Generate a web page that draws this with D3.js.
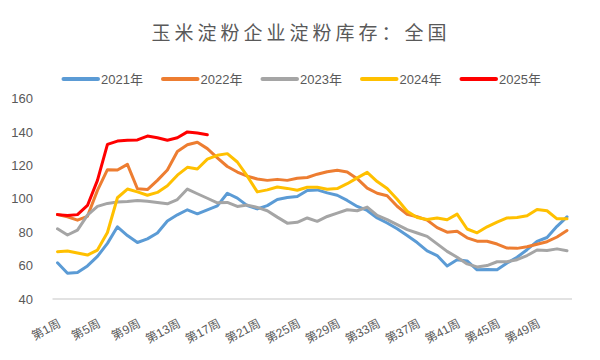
<!DOCTYPE html>
<html><head><meta charset="utf-8">
<script src="https://cdn.jsdelivr.net/npm/d3@7"></script>
<style>
html,body{margin:0;padding:0;background:#fff;}
text{font-family:"Liberation Sans",Arial,"Noto Sans CJK SC",sans-serif;fill:#595959;}
</style></head>
<body><svg id="c" width="600" height="360"></svg>
<script>
const weeks = d3.range(1, 53).map(i => "第" + i + "周");
const tickWeeks = ["第1周","第5周","第9周","第13周","第17周","第21周","第25周","第29周","第33周","第37周","第41周","第45周","第49周"];
const yTicks = [40, 60, 80, 100, 120, 140, 160];
const seriesNames = ["2021年","2022年","2023年","2024年","2025年"];
const seriesColors = ["#5B9BD5","#ED7D31","#A5A5A5","#FFC000","#FF0000"];
const v2021 = [61.7,55.4,55.8,59.8,65.5,73.3,83.2,78,73.8,76,79.5,86.7,90.4,93.4,91,93.4,95.7,103.3,100.4,95.9,93.9,95.9,99.5,100.7,101.3,104.9,105.3,103.5,102.1,99,95.4,93,88.5,85.5,82,78,73.8,68.8,66,59.8,63.5,62.8,57.5,57.7,57.5,61.5,65,69.5,74.5,76.8,83.5,89.2];
const v2022 = [90.6,89.2,87.2,89.5,105,117.4,117.2,120.6,106,105.5,111,117.2,128.3,132.3,133.8,130,124.5,119.3,116,113.5,111.8,111,111.6,111,112.3,112.7,114.7,116.2,117,116,112,106.4,103.3,101.8,95.5,90.7,89.2,87.2,82.7,80,80.5,76.6,74.6,74.6,72.9,70.5,70.3,71.3,72.8,74.3,77.1,81];
const v2023 = [82,78.3,81.2,90.2,95.4,97.2,98,98.4,99,98.5,97.8,97,99.5,105.8,103,100.3,97.6,97.8,95.4,96.2,94.8,92.8,89,85.4,85.9,88.5,86.5,89.4,91.4,93.4,92.8,95,90,87.5,84.5,81.5,79.5,77.5,73,68.5,65,61,59.2,60,62.3,62.3,63.5,66,69.3,69,70,68.9];
const v2024 = [68.3,68.7,67.5,66.3,69.3,79.8,100.6,105.8,104.1,102.1,103.8,107.8,114.1,118.8,117.8,123.7,126,127,122,113.5,104.1,105.3,107,106.2,105.1,106.9,106.9,105.7,106.1,109,112.5,115.8,110.3,106.1,99.7,92.5,88.8,87.6,88.5,87.4,90.8,81.9,79.6,83.2,86,88.5,88.8,89.8,93.6,92.8,88,88];
const v2025 = [90.5,90,90.5,96,111,132.5,134.5,135,135.2,137.5,136.5,135,136.5,140,139.3,138.3];
const allSeries = [v2021, v2022, v2023, v2024, v2025];

const svg = d3.select("#c");
const x = d3.scalePoint().domain(weeks).range([52.5, 572]).padding(0.5);
const y = d3.scaleLinear().domain([40, 160]).range([299, 98.5]);

// title
svg.append("text").attr("x", 301).attr("y", 40).attr("text-anchor", "middle")
  .style("font-family", "'Noto Sans CJK SC',sans-serif").style("font-size", "19px")
  .style("letter-spacing", "4px").text("玉米淀粉企业淀粉库存：全国");

// legend
const lg = svg.append("g");
seriesNames.forEach((n, i) => {
  const lx = 63.5 + i * 99.5;
  lg.append("line").attr("x1", lx).attr("x2", lx + 34.5).attr("y1", 79).attr("y2", 79)
    .attr("stroke", seriesColors[i]).attr("stroke-width", 4).attr("stroke-linecap", "round");
  lg.append("text").attr("x", lx + 37.5).attr("y", 83.5).style("font-size", "13px").text(n);
});

// y axis labels
const ya = d3.axisLeft(y).tickValues(yTicks).tickSize(0).tickPadding(0);
const yg = svg.append("g").attr("transform", "translate(33,0)").call(ya);
yg.select(".domain").remove();
yg.selectAll("text").style("font-size", "13px").style("fill", "#595959")
  .style("font-family", "'Liberation Sans',Arial,sans-serif");

// x axis
const xa = d3.axisBottom(x).tickValues(tickWeeks).tickSize(0).tickPadding(0);
const xg = svg.append("g").attr("transform", "translate(0," + y(40) + ")").call(xa);
xg.select(".domain").attr("stroke", "#d9d9d9").attr("stroke-width", 1.5)
  .attr("d", "M" + 52.5 + ",0H" + 572);
xg.selectAll("text")
  .style("font-size", "12px").style("fill", "#595959")
  .attr("text-anchor", "end").attr("y", 0).attr("dy", 0)
  .attr("transform", "translate(3.5,27) rotate(-28)");

// lines
const line = d3.line().x((d, i) => x(weeks[i])).y(d => y(d));
allSeries.forEach((s, i) => {
  svg.append("path").datum(s).attr("d", line).attr("fill", "none")
    .attr("stroke", seriesColors[i]).attr("stroke-width", 3)
    .attr("stroke-linejoin", "round").attr("stroke-linecap", "round");
});
</script></body></html>
